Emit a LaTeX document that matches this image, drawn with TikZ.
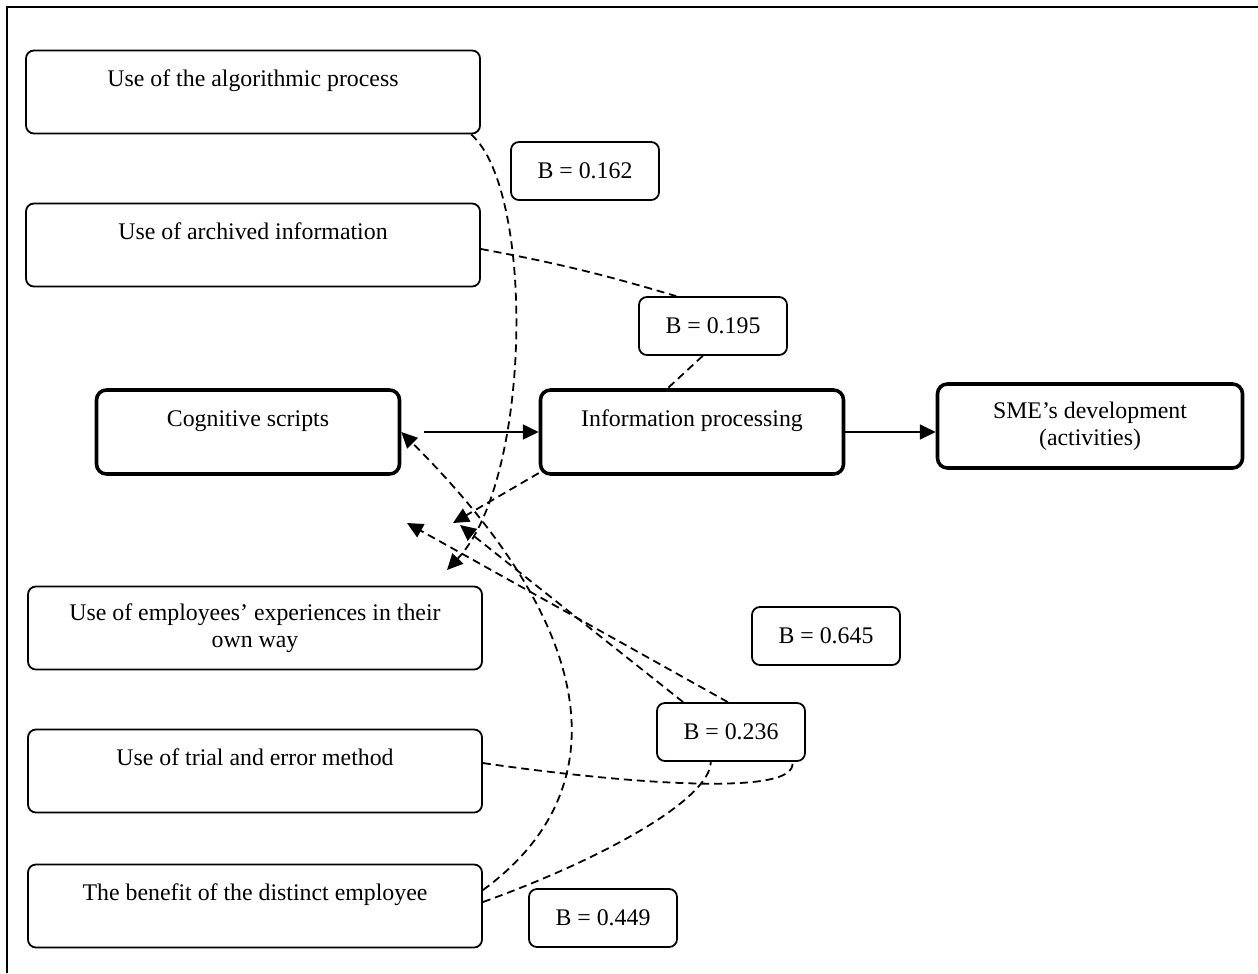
\documentclass[tikz,border=0pt]{standalone}
\usepackage{fontspec}
\setmainfont{Liberation Serif}
\usetikzlibrary{arrows.meta}
\newcommand{\unitpx}{0.0177cm}

\begin{document}
\begin{tikzpicture}
  [
    x=\unitpx, y=-\unitpx,
    font=\fontsize{12}{13.8}\selectfont,
    Item/.style={draw=black, rounded corners=4pt, line width=0.9pt, align=center, inner sep=0pt, minimum width=454*\unitpx, minimum height=83*\unitpx},
    Core/.style={draw=black, rounded corners=5pt, line width=1.8pt, align=center, inner sep=0pt, minimum width=303*\unitpx, minimum height=84*\unitpx},
    Coef/.style={draw=black, rounded corners=4pt, line width=0.9pt, inner sep=0pt, minimum width=148*\unitpx, minimum height=58*\unitpx},
    Dash/.style={line width=0.9pt, dash pattern=on 4pt off 2.5pt},
    Tip/.style={-{Triangle[length=8pt, width=7.5pt]}}
  ]
  \useasboundingbox (0,0) rectangle (1258,973);
  \draw[line width=1pt] (7,973) -- (7,7) -- (1258,7);
  % Nodes
  \node[Item] (algo) at (253,92) {Use of the algorithmic process\\ \mbox{}};
  \node[Item] (archive) at (253,245) {Use of archived information\\ \mbox{}};
  \node[Core] (cog) at (248,432) {Cognitive scripts\\ \mbox{}};
  \node[Core] (info) at (692,432) {Information processing\\ \mbox{}};
  \node[Core, minimum width=305*\unitpx] (sme) at (1090,426) {SME's development\\(activities)};
  \node[Item] (employ) at (255,628) {Use of employees' experiences in their\\own way};
  \node[Item] (trial) at (255,771) {Use of trial and error method\\ \mbox{}};
  \node[Item] (benefit) at (255,906) {The benefit of the distinct employee\\ \mbox{}};
  \node[Coef] (b162) at (585,171) {B = 0.162};
  \node[Coef] (b195) at (713,326) {B = 0.195};
  \node[Coef] (b645) at (826,636) {B = 0.645};
  \node[Coef] (b236) at (731,732) {B = 0.236};
  \node[Coef] (b449) at (603,918) {B = 0.449};
  \coordinate (tipAlgo) at (447,570);
  \coordinate (tipInfo) at (453,523);
  \coordinate (tipLow) at (460,525);
  \coordinate (tipLeft) at (407,523);
  % Lines
  \draw[Tip, line width=1pt, shorten <=23*\unitpx] (cog) -- (info);
  \draw[Tip, line width=1pt] (info.east) -- (info.east -| sme.west);
  \draw[Dash, Tip] (algo.-11.4) .. controls (535,190) and (532,480) .. (tipAlgo);
  \draw[Dash] (archive.-1.4) to[bend left=3] (b195.141.7);
  \draw[Dash] (b195.-109) -- (info.119.7);
  \draw[Dash, Tip] (info.-165.7) -- (tipInfo);
  \draw[Dash, Tip] (b236.148) -- (tipLow);
  \draw[Dash, Tip] (b236.96.9) -- (tipLeft);
  \draw[Dash, Tip] (benefit.4.3) .. controls (620,790) and (600,630) .. (cog.east);
  \draw[Dash] (trial.2.5) .. controls (600,780) and (800,800) .. (b236.-26.8);
  \draw[Dash] (benefit.1) .. controls (600,860) and (710,800) .. (b236.-124.7);
\end{tikzpicture}
\end{document}
